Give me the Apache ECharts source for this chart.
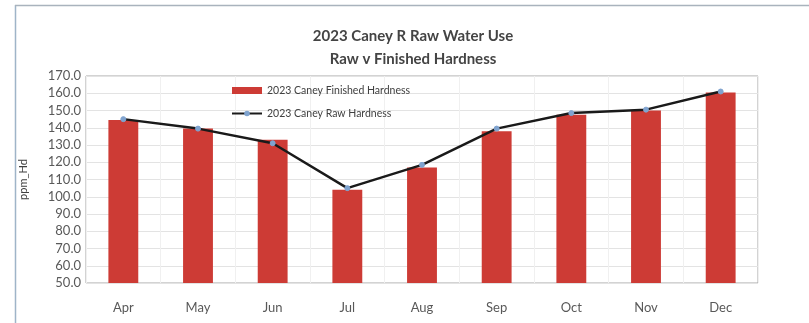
<!DOCTYPE html>
<html><head><meta charset="utf-8">
<script src="https://cdn.jsdelivr.net/npm/echarts@6/dist/echarts.min.js"></script>
<style>html,body{margin:0;padding:0;background:#fff}#c{width:809px;height:323px}</style>
</head><body><div id="c"></div>
<script>
const months = ['Apr','May','Jun','Jul','Aug','Sep','Oct','Nov','Dec'];
const finishedHardness = [144.5, 139.5, 133.0, 104.0, 117.0, 138.0, 147.5, 150.0, 160.5];
const rawHardness = [145.0, 139.5, 131.0, 105.0, 118.5, 139.5, 148.5, 150.5, 161.0];
const titleLines = ['2023 Caney R Raw Water Use', 'Raw v Finished Hardness'];
const seriesNames = ['2023 Caney Finished Hardness', '2023 Caney Raw Hardness'];
const yAxisName = 'ppm_Hd';

const chart = echarts.init(document.getElementById('c'));
const font = 'Lato, "Open Sans", sans-serif';
chart.setOption({
  animation: false,
  backgroundColor: '#fff',
  title: {
    text: titleLines.join('\n'),
    left: 408, top: 20, textAlign: 'center',
    textStyle: { fontFamily: font, fontSize: 15, fontWeight: 'bold', color: '#444', lineHeight: 23 }
  },
  graphic: [
    { type: 'line', shape: { x1: 15.5, y1: 5, x2: 15.5, y2: 323 }, style: { stroke: '#9fb4c8', lineWidth: 1.5 } },
    { type: 'line', shape: { x1: 15, y1: 5.5, x2: 809, y2: 5.5 }, style: { stroke: '#a9b3bd', lineWidth: 1.5 } }
  ],
  legend: {
    orient: 'vertical', left: 226, top: 80, itemGap: 12, itemWidth: 30, itemHeight: 7,
    textStyle: { fontFamily: font, fontSize: 10.5, color: '#404040' },
    data: [
      { name: seriesNames[0], icon: 'rect' },
      { name: seriesNames[1] }
    ]
  },
  grid: { left: 86, right: 51, top: 76, bottom: 40, show: true, borderColor: '#a6a6a6', borderWidth: 1 },
  xAxis: {
    type: 'category', data: months,
    axisLine: { show: false }, axisTick: { show: false },
    axisLabel: { fontFamily: font, fontSize: 13, color: '#595959', margin: 18 },
    splitLine: { show: true, lineStyle: { color: '#f0f0f0', width: 1 } }
  },
  yAxis: {
    type: 'value', min: 50, max: 170, interval: 10,
    name: yAxisName, nameLocation: 'middle', nameGap: 57, nameRotate: 90,
    nameTextStyle: { fontFamily: font, fontSize: 11, color: '#404040' },
    axisLine: { show: false }, axisTick: { show: false },
    axisLabel: { fontFamily: font, fontSize: 13, color: '#595959', margin: 5, formatter: v => v.toFixed(1) },
    splitLine: { lineStyle: { color: '#e3e3e3', width: 1 } }
  },
  series: [
    {
      name: seriesNames[0], type: 'bar', data: finishedHardness, barWidth: '40%',
      itemStyle: { color: '#cd3b35' }
    },
    {
      name: seriesNames[1], type: 'line', data: rawHardness,
      symbol: 'circle', symbolSize: 5,
      lineStyle: { color: '#1a1a1a', width: 2.5 },
      itemStyle: { color: '#7fa3cf', borderColor: '#7fa3cf' },
      z: 3
    }
  ]
});
</script></body></html>
